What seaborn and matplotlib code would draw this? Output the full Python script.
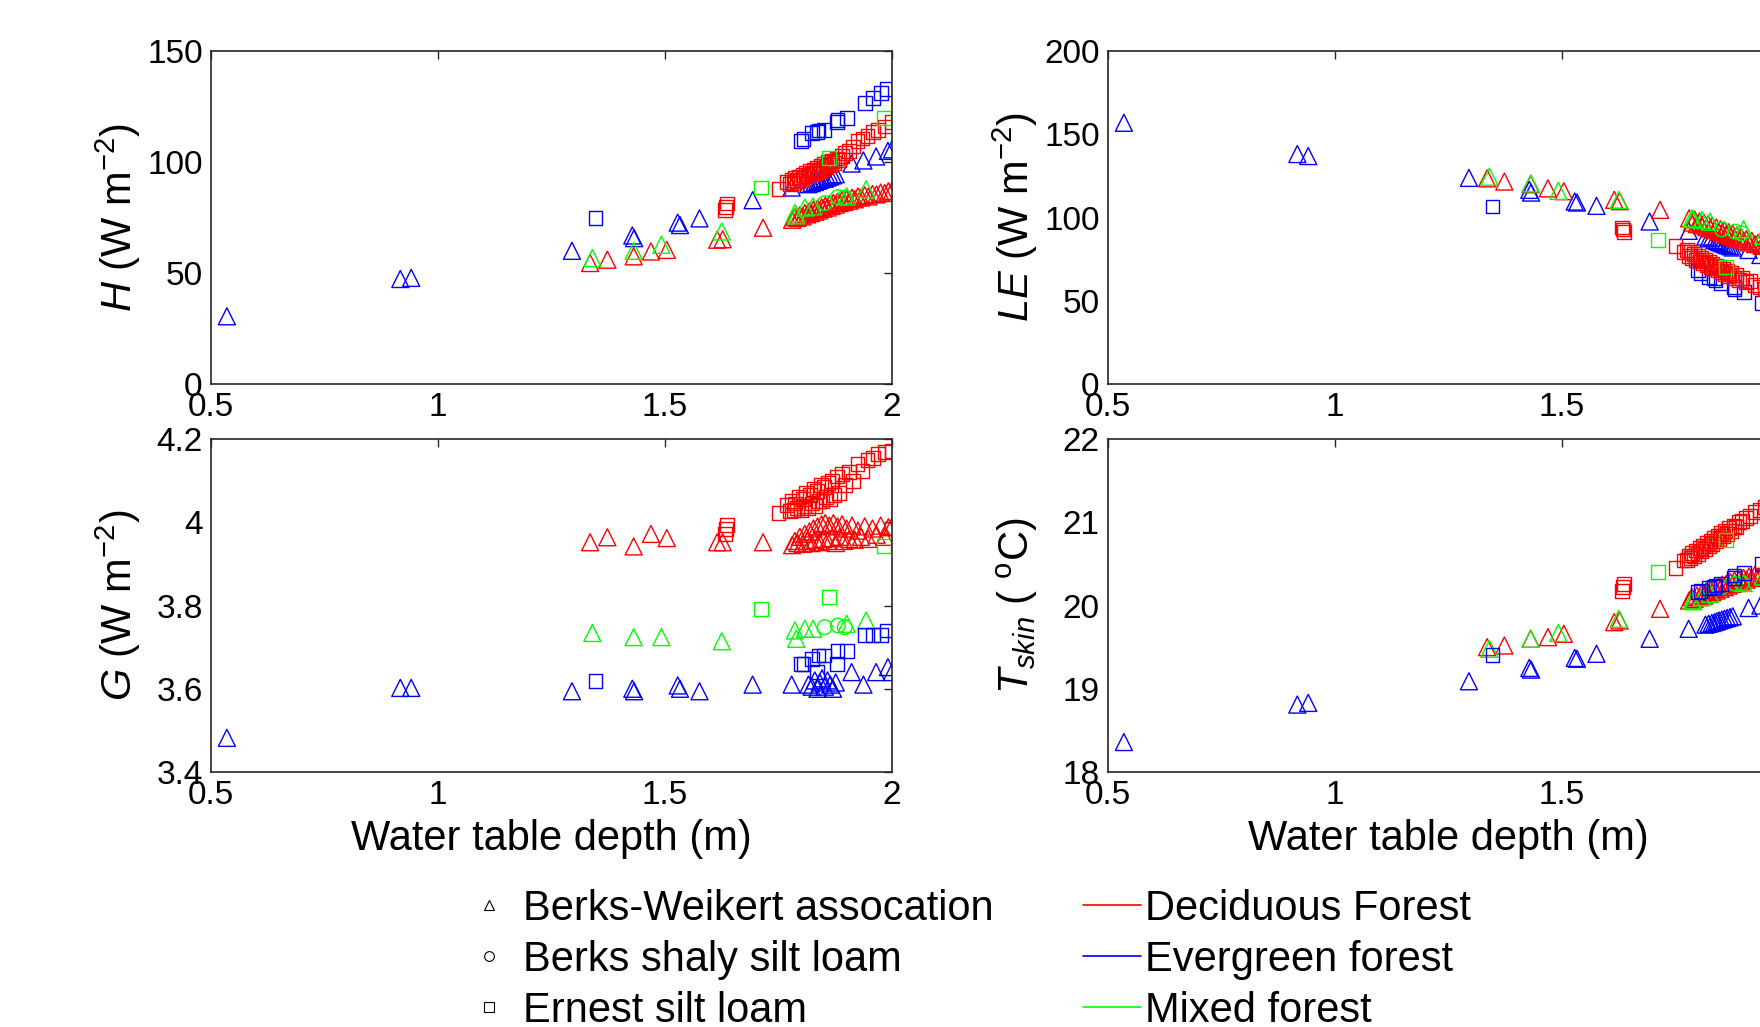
import pandas as pd
import seaborn as sns
import matplotlib.pyplot as plt
from matplotlib.lines import Line2D
from matplotlib.ticker import FormatStrFormatter

# Simulated surface fluxes vs water table depth, split by soil type (marker) and land cover (colour).
soils = ['Berks-Weikert assocation', 'Berks shaly silt loam', 'Ernest silt loam']
forests = ['Deciduous Forest', 'Evergreen forest', 'Mixed forest']
forest_colors = ['#ff0000', '#0000ff', '#00ff00']
soil_markers = ['^', 'o', 's']

# Berks-Weikert / evergreen (blue triangles)
bw_ev_depth = [0.535, 0.917, 0.941, 1.295, 1.428, 1.432, 1.528, 1.533, 1.576, 1.693, 1.779, 1.816, 1.823, 1.830,
               1.836, 1.841, 1.846, 1.852, 1.858, 1.864, 1.870, 1.876, 1.911, 1.937, 1.965, 1.991, 2.000]
bw_ev_h = [30.5, 47.3, 47.8, 60.0, 66.9, 65.7, 72.7, 71.6, 74.6, 82.8, 88.5, 90.0, 90.5, 91.0,
           91.5, 92.0, 92.5, 92.5, 93.0, 93.5, 94.0, 94.5, 99.3, 100.7, 102.5, 105.0, 105.7]
bw_ev_le = [156.9, 138.1, 136.9, 123.8, 116.6, 115.0, 109.6, 109.0, 107.0, 97.6, 92.0, 88.6, 87.5, 88.0,
            86.5, 86.0, 85.2, 84.6, 84.0, 83.4, 82.8, 82.0, 80.5, 77.5, 74.5, 71.5, 70.5]
bw_ev_g = [3.482, 3.602, 3.602, 3.594, 3.600, 3.594, 3.608, 3.600, 3.594, 3.610, 3.610, 3.610, 3.605, 3.620,
           3.600, 3.615, 3.625, 3.605, 3.620, 3.610, 3.600, 3.615, 3.640, 3.610, 3.640, 3.652, 3.640]
bw_ev_t = [18.36, 18.81, 18.83, 19.09, 19.25, 19.23, 19.37, 19.36, 19.42, 19.60, 19.72, 19.77, 19.78, 19.79,
           19.80, 19.81, 19.82, 19.83, 19.84, 19.85, 19.86, 19.87, 19.97, 20.00, 20.05, 20.10, 20.12]

# Berks-Weikert / deciduous (red triangles)
bw_de_depth = [1.335, 1.373, 1.431, 1.469, 1.504, 1.615, 1.627, 1.716,
               1.780, 1.786, 1.792, 1.797, 1.803, 1.808, 1.813, 1.818, 1.822, 1.827, 1.831, 1.836, 1.840,
               1.845, 1.849, 1.853, 1.858, 1.862, 1.867, 1.871, 1.876, 1.880, 1.885, 1.890, 1.895, 1.900,
               1.906, 1.912, 1.918, 1.925, 1.932, 1.940, 1.948, 1.957, 1.966, 1.975, 1.984, 1.992, 2.000]
bw_de_h = [54.5, 56.0, 57.5, 59.7, 60.4, 65.0, 65.2, 70.4,
           74.0, 75.2, 74.8, 76.0, 75.5, 77.0, 76.4, 77.8, 77.0, 78.5, 77.6, 79.0, 78.2,
           79.6, 79.0, 80.3, 79.5, 81.0, 80.2, 81.6, 80.8, 82.1, 81.5, 82.8, 82.0, 83.3,
           82.6, 83.9, 83.2, 84.5, 84.0, 85.0, 84.5, 85.6, 85.4, 86.2, 86.0, 86.8, 87.0]
bw_de_le = [123.5, 121.6, 120.0, 117.5, 115.8, 110.6, 109.8, 104.6,
            99.5, 97.0, 98.8, 96.0, 97.6, 95.2, 96.8, 94.2, 96.0, 93.4, 95.0, 92.4, 94.0,
            91.6, 93.0, 90.6, 92.2, 89.8, 91.2, 88.8, 90.2, 88.0, 89.2, 87.0, 88.2, 86.0,
            87.0, 85.0, 86.0, 84.0, 84.8, 83.0, 83.6, 81.8, 82.4, 80.6, 81.2, 79.6, 79.0]
bw_de_g = [3.952, 3.964, 3.942, 3.972, 3.962, 3.952, 3.952, 3.952,
           3.945, 3.955, 3.950, 3.965, 3.948, 3.972, 3.955, 3.978, 3.950, 3.985, 3.958, 3.990, 3.952,
           3.995, 3.960, 3.998, 3.955, 3.992, 3.962, 3.998, 3.950, 3.990, 3.965, 3.995, 3.955, 3.985,
           3.960, 3.992, 3.958, 3.980, 3.965, 3.990, 3.960, 3.985, 3.970, 3.992, 3.965, 3.988, 3.990]
bw_de_t = [19.50, 19.52, 19.60, 19.62, 19.66, 19.80, 19.82, 19.96,
           20.06, 20.10, 20.08, 20.12, 20.10, 20.15, 20.12, 20.17, 20.14, 20.19, 20.16, 20.21, 20.18,
           20.23, 20.20, 20.25, 20.22, 20.26, 20.24, 20.28, 20.26, 20.30, 20.27, 20.31, 20.29, 20.33,
           20.31, 20.35, 20.33, 20.37, 20.35, 20.39, 20.37, 20.41, 20.40, 20.43, 20.42, 20.45, 20.46]

# Berks-Weikert / mixed (green triangles)
bw_mx_depth = [1.340, 1.431, 1.492, 1.625, 1.786, 1.789, 1.808, 1.826, 1.900, 1.943]
bw_mx_h = [56.7, 60.0, 62.7, 68.7, 77.0, 76.0, 79.5, 80.0, 84.5, 87.7]
bw_mx_le = [124.5, 120.5, 116.0, 110.5, 99.5, 99.0, 98.5, 97.5, 93.0, 89.0]
bw_mx_g = [3.734, 3.724, 3.724, 3.714, 3.740, 3.720, 3.744, 3.744, 3.756, 3.764]
bw_mx_t = [19.48, 19.60, 19.67, 19.84, 20.06, 20.05, 20.10, 20.14, 20.27, 20.35]

# Berks shaly silt loam / mixed (green circles)
bs_mx_depth = [1.852, 1.881, 1.896]
bs_mx_h = [81.5, 84.2, 84.0]
bs_mx_le = [92.9, 91.5, 90.5]
bs_mx_g = [3.748, 3.752, 3.748]
bs_mx_t = [20.22, 20.26, 20.27]

# Ernest / evergreen (blue squares)
er_ev_depth = [1.347, 1.799, 1.805, 1.823, 1.834, 1.838, 1.851, 1.878, 1.880, 1.900, 1.941, 1.958, 1.975, 1.989]
er_ev_h = [74.6, 109.4, 110.5, 113.0, 113.5, 114.2, 114.6, 118.0, 119.0, 119.8, 126.5, 129.0, 131.0, 133.0]
er_ev_le = [106.6, 68.2, 66.6, 64.2, 63.5, 62.6, 60.6, 58.0, 57.0, 55.0, 48.5, 46.0, 44.0, 42.0]
er_ev_g = [3.618, 3.660, 3.660, 3.672, 3.640, 3.680, 3.680, 3.660, 3.690, 3.690, 3.730, 3.730, 3.730, 3.740]
er_ev_t = [19.41, 20.16, 20.17, 20.21, 20.22, 20.24, 20.26, 20.33, 20.36, 20.39, 20.50, 20.54, 20.58, 20.62]

# Ernest / deciduous (red squares)
er_de_depth = [1.632, 1.634, 1.636, 1.750, 1.768,
               1.775, 1.779, 1.783, 1.787, 1.791, 1.795, 1.799, 1.803, 1.807, 1.811, 1.815, 1.819, 1.823,
               1.827, 1.831, 1.835, 1.839, 1.843, 1.847, 1.851, 1.855, 1.859, 1.863, 1.868, 1.873, 1.878,
               1.884, 1.890, 1.897, 1.905, 1.914, 1.924, 1.935, 1.946, 1.958, 1.970, 1.984, 1.999]
er_de_h = [78.4, 79.9, 81.3, 87.7, 91.0,
           90.0, 91.8, 90.6, 92.6, 91.4, 93.4, 92.0, 94.2, 92.8, 95.0, 93.6, 95.8, 94.4,
           96.6, 95.2, 97.4, 96.0, 98.2, 97.0, 99.0, 97.8, 99.8, 98.6, 100.6, 99.6, 101.6,
           100.8, 102.8, 104.0, 105.0, 107.0, 109.5, 110.6, 111.8, 113.5, 114.5, 116.0, 118.0]
er_de_le = [94.0, 92.8, 91.5, 82.9, 79.5,
            80.5, 77.0, 79.2, 75.8, 78.0, 74.6, 77.0, 73.6, 75.8, 72.6, 74.6, 71.4, 73.6,
            70.4, 72.4, 69.4, 71.2, 68.2, 70.2, 67.2, 69.0, 66.2, 68.0, 65.0, 66.6, 63.8,
            65.2, 62.4, 63.6, 61.0, 61.6, 59.6, 58.2, 57.0, 55.4, 54.2, 52.6, 51.0]
er_de_g = [3.972, 3.984, 3.994, 4.022, 4.042,
           4.028, 4.050, 4.030, 4.045, 4.035, 4.060, 4.030, 4.055, 4.040, 4.070, 4.035, 4.065, 4.045,
           4.080, 4.040, 4.075, 4.050, 4.090, 4.050, 4.085, 4.060, 4.095, 4.055, 4.100, 4.065, 4.110,
           4.070, 4.115, 4.090, 4.120, 4.100, 4.140, 4.124, 4.150, 4.155, 4.165, 4.168, 4.172]
er_de_t = [20.17, 20.22, 20.26, 20.45, 20.54,
           20.55, 20.60, 20.57, 20.63, 20.59, 20.66, 20.62, 20.69, 20.65, 20.72, 20.68, 20.75, 20.71,
           20.78, 20.74, 20.81, 20.77, 20.84, 20.80, 20.87, 20.83, 20.90, 20.86, 20.93, 20.90, 20.96,
           20.94, 21.00, 21.02, 21.05, 21.08, 21.12, 21.15, 21.18, 21.21, 21.24, 21.27, 21.30]

# Ernest / mixed (green squares)
er_mx_depth = [1.711, 1.862, 1.983]
er_mx_h = [88.5, 102.0, 120.0]
er_mx_le = [86.5, 70.2, 50.0]
er_mx_g = [3.792, 3.820, 3.942]
er_mx_t = [20.40, 20.79, 21.20]


def group(soil, forest, depth, h, le, g, t):
    return pd.DataFrame({'depth': depth, 'H': h, 'LE': le, 'G': g, 'Tskin': t,
                         'soil': soil, 'forest': forest})


# drawing order: triangles, circles, squares
df = pd.concat([
    group(soils[0], forests[1], bw_ev_depth, bw_ev_h, bw_ev_le, bw_ev_g, bw_ev_t),
    group(soils[0], forests[0], bw_de_depth, bw_de_h, bw_de_le, bw_de_g, bw_de_t),
    group(soils[0], forests[2], bw_mx_depth, bw_mx_h, bw_mx_le, bw_mx_g, bw_mx_t),
    group(soils[1], forests[2], bs_mx_depth, bs_mx_h, bs_mx_le, bs_mx_g, bs_mx_t),
    group(soils[2], forests[1], er_ev_depth, er_ev_h, er_ev_le, er_ev_g, er_ev_t),
    group(soils[2], forests[0], er_de_depth, er_de_h, er_de_le, er_de_g, er_de_t),
    group(soils[2], forests[2], er_mx_depth, er_mx_h, er_mx_le, er_mx_g, er_mx_t),
], ignore_index=True)

sns.set_style('white')
plt.rcParams['font.family'] = ['Liberation Sans', 'DejaVu Sans']
plt.rcParams['mathtext.fontset'] = 'custom'
plt.rcParams['mathtext.rm'] = 'Liberation Sans'
plt.rcParams['mathtext.it'] = 'Liberation Sans:italic'
plt.rcParams['text.color'] = 'black'
plt.rcParams['axes.labelcolor'] = 'black'

palette = dict(zip(forests, forest_colors))
markers = dict(zip(soils, soil_markers))
sizes = {soils[0]: 150, soils[1]: 110, soils[2]: 100}

fig = plt.figure(figsize=(17.6, 10.27), dpi=100)
W, Hpx = 1760.0, 1027.0
col_left = [211 / W, 1108 / W]
row_bottom = [1 - 384 / Hpx, 1 - 772 / Hpx]
ax_w = 681 / W
ax_h = 333 / Hpx

panels = [
    ('H', r'$H$ (W m$^{-2}$)', (0, 150), [0, 50, 100, 150], 0, 0),
    ('LE', r'$LE$ (W m$^{-2}$)', (0, 200), [0, 50, 100, 150, 200], 0, 1),
    ('G', r'$G$ (W m$^{-2}$)', (3.4, 4.2), [3.4, 3.6, 3.8, 4.0, 4.2], 1, 0),
    ('Tskin', r'$T_{skin}$ ( $^{\mathrm{o}}$C)', (18, 22), [18, 19, 20, 21, 22], 1, 1),
]

for var, ylab, ylim, yticks, r, c in panels:
    ax = fig.add_axes([col_left[c], row_bottom[r], ax_w, ax_h])
    sns.scatterplot(data=df, x='depth', y=var, hue='forest', style='soil', size='soil',
                    palette=palette, markers=markers, sizes=sizes, legend=False, ax=ax)
    pts = ax.collections[-1]
    ec = pts.get_facecolors()
    pts.set_edgecolors(ec)
    pts.set_facecolors('none')
    pts.set_linewidths(1.0)

    ax.set_xlim(0.5, 2)
    ax.set_xticks([0.5, 1, 1.5, 2])
    ax.set_ylim(*ylim)
    ax.set_yticks(yticks)
    ax.xaxis.set_major_formatter(FormatStrFormatter('%g'))
    ax.yaxis.set_major_formatter(FormatStrFormatter('%g'))
    ax.tick_params(direction='in', length=6, width=1, top=True, right=True,
                   labelsize=24, pad=6, colors='#262626', labelcolor='black')
    for sp in ax.spines.values():
        sp.set_visible(True)
        sp.set_color('#262626')
        sp.set_linewidth(1.2)
    ax.set_ylabel(ylab, fontsize=30)
    ax.yaxis.set_label_coords(-0.1, 0.5)
    if r == 1:
        ax.set_xlabel('Water table depth (m)', fontsize=30)
        ax.xaxis.set_label_coords(0.5, -0.14)
    else:
        ax.set_xlabel('')

# legend: soil type markers (left) and land-cover colours (right)
soil_handles = [Line2D([], [], linestyle='none', marker=m, markersize=7, markerfacecolor='none',
                       markeredgecolor='black', markeredgewidth=0.8) for m in soil_markers]
forest_handles = [Line2D([], [], color=col, linewidth=1.2) for col in forest_colors]

leg_top = 1 - 889 / Hpx
fig.legend(soil_handles, soils, loc='upper left', bbox_to_anchor=(476 / W, leg_top),
           frameon=False, fontsize=30, handlelength=0.6, handletextpad=0.52,
           labelspacing=0.26, borderpad=0, borderaxespad=0)
fig.legend(forest_handles, forests, loc='upper left', bbox_to_anchor=(1083 / W, leg_top),
           frameon=False, fontsize=30, handlelength=1.39, handletextpad=0.1,
           labelspacing=0.26, borderpad=0, borderaxespad=0)

fig.savefig('out.png', dpi=100)
